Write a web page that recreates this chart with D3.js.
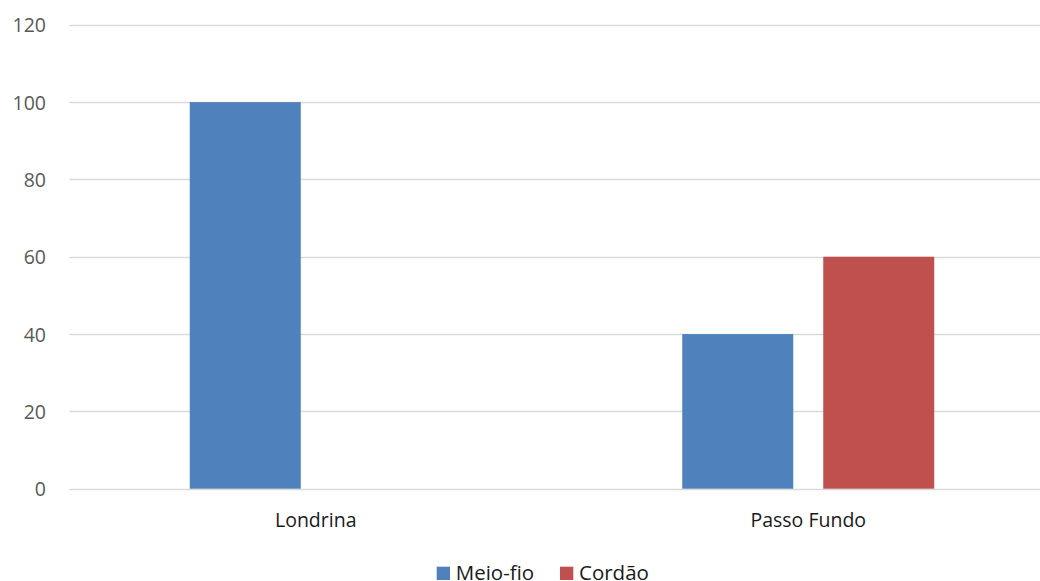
<!DOCTYPE html>
<html><head><meta charset="utf-8">
<script src="https://cdn.jsdelivr.net/npm/d3@7"></script>
<style>body{margin:0;background:#fff}svg{display:block}</style>
</head><body>
<svg id="c" width="1040" height="581"></svg>
<script>
const categories = ["Londrina", "Passo Fundo"];
const seriesNames = ["Meio-fio", "Cordão"];
const meioFio = [100, 40];
const cordao = [0, 60];
const yTicks = [0, 20, 40, 60, 80, 100, 120];
const colors = ["#4F81BD", "#C0504D"];

const values = [meioFio, cordao];
const svg = d3.select("#c");
const plotLeft = 69.5, plotRight = 1054.5, plotTop = 24.8, plotBottom = 488.7;
const FONT = "'Open Sans', 'Noto Sans', sans-serif";

const y = d3.scaleLinear().domain([0, 120]).range([plotBottom, plotTop]);
const x0 = d3.scaleBand().domain(categories).range([plotLeft, plotRight]).paddingInner(0).paddingOuter(0);
const groupPad = 120.25;
const x1 = d3.scaleBand().domain(seriesNames).range([groupPad, x0.bandwidth() - groupPad]).paddingInner(30/141).paddingOuter(0);

// gridlines
svg.append("g").selectAll("line").data(yTicks).join("line")
  .attr("x1", plotLeft).attr("x2", plotRight)
  .attr("y1", d => Math.round(y(d)) + 0.5).attr("y2", d => Math.round(y(d)) + 0.5)
  .attr("stroke", "#d9d9d9").attr("stroke-width", 1.5);

// y tick labels
const yAxis = d3.axisLeft(y).tickValues(yTicks).tickSize(0).tickPadding(0);
const ga = svg.append("g").attr("transform", `translate(46,0)`).call(yAxis);
ga.select(".domain").remove();
ga.selectAll("text").attr("font-family", FONT).attr("font-size", 19.5).attr("fill", "#595959").attr("dy", "0.36em");

// bars
const groups = svg.append("g").selectAll("g").data(categories).join("g")
  .attr("transform", d => `translate(${x0(d)},0)`);
groups.selectAll("rect").data((d, i) => seriesNames.map((s, j) => ({s, j, v: values[j][i]})))
  .join("rect")
  .attr("x", d => x1(d.s)).attr("width", x1.bandwidth())
  .attr("y", d => y(d.v)).attr("height", d => y(0) - y(d.v))
  .attr("fill", d => colors[d.j]);

// x labels
const xAxis = d3.axisBottom(x0).tickSize(0).tickPadding(0);
const gx = svg.append("g").attr("transform", `translate(0,${plotBottom})`).call(xAxis);
gx.select(".domain").remove();
gx.selectAll("text").attr("font-family", FONT).attr("font-size", 19.5).attr("fill", "#1a1a1a").attr("dy", 0).attr("y", 38);

// legend
const leg = svg.append("g");
const legX = [436.7, 560];
seriesNames.forEach((s, j) => {
  leg.append("rect").attr("x", legX[j]).attr("y", 566.7).attr("width", 13.3).attr("height", 13.3).attr("fill", colors[j]);
  leg.append("text").attr("x", legX[j] + 19).attr("y", 580).text(s)
    .attr("font-family", FONT).attr("font-size", 20.5).attr("fill", "#1a1a1a");
});
</script>
</body></html>
